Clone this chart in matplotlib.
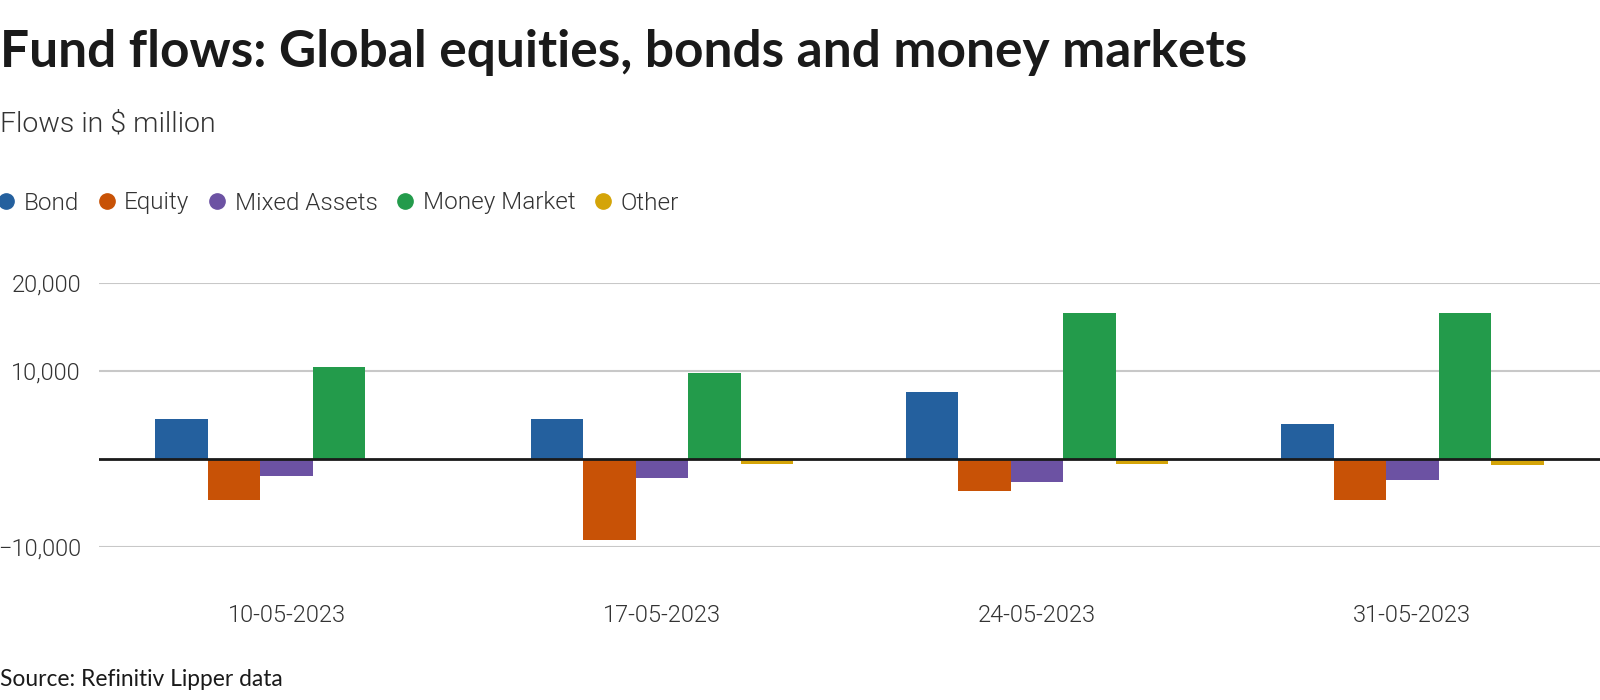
import matplotlib
matplotlib.use("Agg")
import matplotlib.pyplot as plt
import numpy as np
from matplotlib.lines import Line2D

dates = ["10-05-2023", "17-05-2023", "24-05-2023", "31-05-2023"]
bond = [4600, 4600, 7600, 3950]
equity = [-4650, -9200, -3650, -4650]
mixed = [-1900, -2150, -2600, -2400]
money = [10400, 9750, 16550, 16550]
other = [0, -550, -550, -700]
series_names = ["Bond", "Equity", "Mixed Assets", "Money Market", "Other"]
colors = ["#24609e", "#c85206", "#6c52a3", "#239b4b", "#d4a408"]
yticks = [-10000, 10000, 20000]
ytick_labels = ["\u221210,000", "10,000", "20,000"]

TFONT = "Lato"
LFONT = "Roboto"
LW = 300
W, H = 1600, 700
fig = plt.figure(figsize=(16, 7), dpi=100)

def fx(px):
    return px / W

def fy(py):
    return 1 - py / H

ax_left, ax_right = 99, 1600
y_top, y_bot = 283, 547
ax = fig.add_axes([fx(ax_left), fy(y_bot), fx(ax_right - ax_left), (y_bot - y_top) / H])

all_series = [bond, equity, mixed, money, other]
x = np.arange(len(dates))
bw = 0.14
for i, (vals, c) in enumerate(zip(all_series, colors)):
    ax.bar(x + (i - 2) * bw, vals, width=bw, color=c, linewidth=0, zorder=3)

ax.set_xlim(-0.5, len(dates) - 0.5)
ax.set_ylim(-10000, 20000)
for s in ax.spines.values():
    s.set_visible(False)
ax.set_yticks(yticks)
ax.set_yticklabels(ytick_labels)
ax.yaxis.grid(True, color="#c8c8c8", linewidth=1.5, zorder=0)
ax.axhline(0, color="#1a1a1a", linewidth=2, zorder=4)
ax.tick_params(axis="y", length=0, pad=13, labelsize=17, labelcolor="#333333")
ax.set_xticks(x)
ax.set_xticklabels(dates)
ax.tick_params(axis="x", length=0, pad=41, labelsize=17, labelcolor="#333333")
for lab in ax.get_xticklabels() + ax.get_yticklabels():
    lab.set_fontfamily(LFONT)
    lab.set_fontweight(LW)

fig.text(0, fy(53), "Fund flows: Global equities, bonds and money markets",
         fontsize=37, fontweight="bold", family=TFONT, color="#1a1a1a", va="center", ha="left")
fig.text(0, fy(124), "Flows in $ million", fontsize=20.5, fontweight=LW,
         family=LFONT, color="#333333", va="center", ha="left")
fig.text(0, fy(679), "Source: Refinitiv Lipper data", fontsize=16.4,
         family=TFONT, color="#1a1a1a", va="center", ha="left")

handles = [Line2D([0], [0], marker="o", linestyle="none", markersize=11,
                  markerfacecolor=c, markeredgecolor=c) for c in colors]
leg = fig.legend(handles, series_names, loc="center left", bbox_to_anchor=(fx(-6), fy(203)),
                 ncol=5, frameon=False, handletextpad=0.22, columnspacing=0.64,
                 handlelength=1.0, borderaxespad=0, borderpad=0,
                 prop={"family": LFONT, "weight": LW, "size": 17.5})
for t in leg.get_texts():
    t.set_color("#333333")

fig.savefig("out.png", dpi=100)
